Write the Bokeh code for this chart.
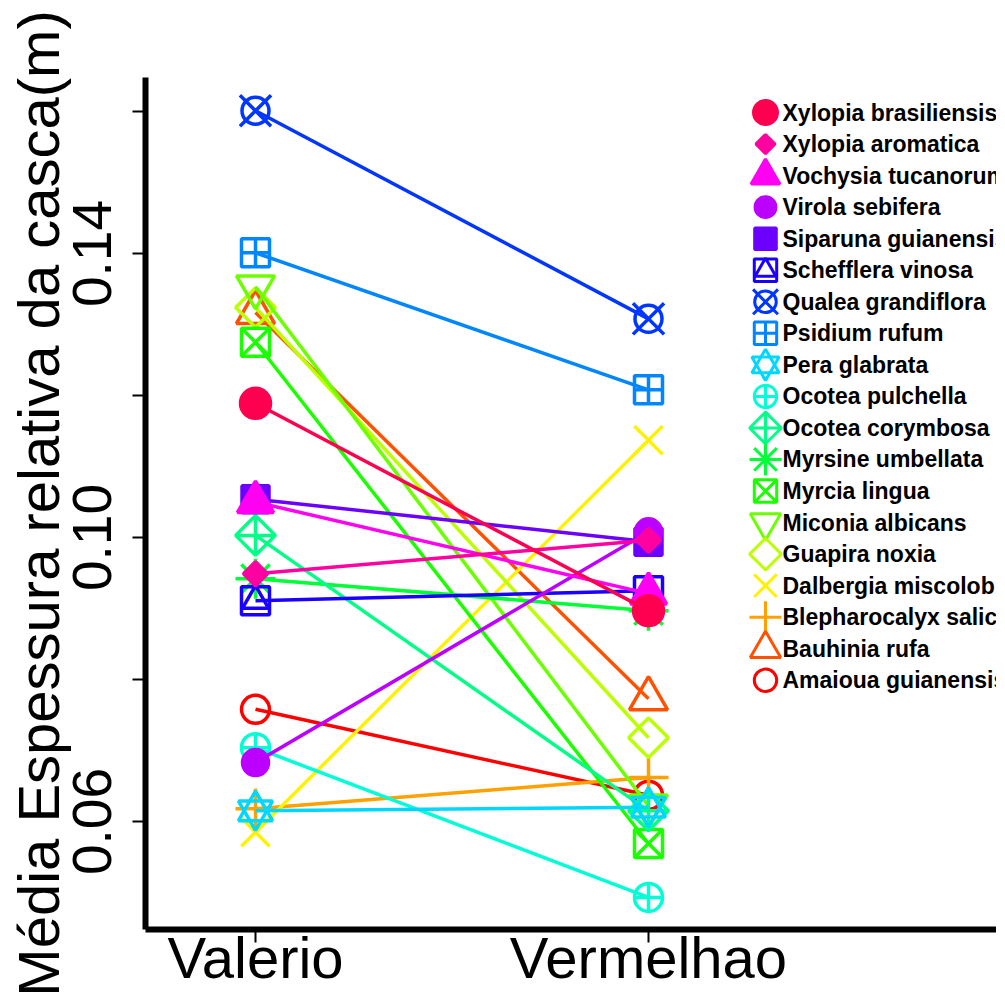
import math

from bokeh.core.properties import value
from bokeh.embed import file_html
from bokeh.models import FixedTicker, NumeralTickFormatter, Range1d
from bokeh.plotting import figure
from bokeh.resources import INLINE

# Bark thickness (mean relative, m) of each species at the two sites
species = [
    "Amaioua guianensis", "Bauhinia rufa", "Blepharocalyx salicifolius",
    "Dalbergia miscolobium", "Guapira noxia", "Miconia albicans",
    "Myrcia lingua", "Myrsine umbellata", "Ocotea corymbosa",
    "Ocotea pulchella", "Pera glabrata", "Psidium rufum",
    "Qualea grandiflora", "Schefflera vinosa", "Siparuna guianensis",
    "Virola sebifera", "Vochysia tucanorum", "Xylopia aromatica",
    "Xylopia brasiliensis",
]
sites = ["Valerio", "Vermelhao"]
valerio = [0.0758, 0.1317, 0.0618, 0.0585, 0.1324, 0.1353, 0.1275, 0.0942,
           0.1003, 0.0704, 0.0615, 0.1401, 0.1601, 0.0911, 0.1054, 0.0683,
           0.1050, 0.0949, 0.1189]
vermelhao = [0.0637, 0.0773, 0.0662, 0.1137, 0.0718, 0.0622, 0.0569, 0.0897,
             0.0615, 0.0493, 0.0620, 0.1208, 0.1308, 0.0925, 0.0994, 0.1008,
             0.0921, 0.0996, 0.0897]
y_ticks = [0.06, 0.10, 0.14]
y_minor = [0.08, 0.12, 0.16]

# rainbow palette, one hue per species
colors = ["#FF0000", "#FF5100", "#FFA100", "#FFF200", "#BCFF00", "#6BFF00",
          "#1BFF00", "#00FF36", "#00FF86", "#00FFD7", "#00D7FF", "#0086FF",
          "#0036FF", "#1B00FF", "#6B00FF", "#BC00FF", "#FF00F2", "#FF00A1",
          "#FF0051"]

Q = math.pi / 4
# marker layers per species: (marker, size, filled, angle)
styles = [
    [("circle", 28, False, 0)],
    [("triangle", 38, False, 0)],
    [("cross", 40, False, 0)],
    [("x", 40, False, 0)],
    [("square", 28, False, Q)],
    [("inverted_triangle", 38, False, 0)],
    [("square_x", 28, False, 0)],
    [("asterisk", 40, False, 0)],
    [("square_x", 28, False, Q)],
    [("circle_cross", 28, False, 0)],
    [("triangle", 34, False, 0), ("inverted_triangle", 34, False, 0)],
    [("square_cross", 28, False, 0)],
    [("circle", 27, False, 0), ("x", 44, False, 0)],
    [("square", 28, False, 0), ("triangle", 26, False, 0)],
    [("square", 27, True, 0)],
    [("circle", 26, True, 0)],
    [("triangle", 36, True, 0)],
    [("square", 17, True, Q)],
    [("circle", 30, True, 0)],
]

FONT = "Liberation Sans"
LW = 3.5

p = figure(
    width=996, height=999,
    output_backend="svg", toolbar_location=None,
    x_range=Range1d(0.7201, 2.8855),
    y_range=Range1d(0.04479, 0.16479),
    min_border_left=145, min_border_right=0,
    min_border_top=77, min_border_bottom=70,
)
p.outline_line_color = None
p.grid.visible = False
p.background_fill_color = "white"
p.border_fill_color = "white"

# legend rows: row k sits k steps below the first one
p.extra_y_ranges = {"legend": Range1d(start=25.9, end=-1.11)}

xs = [1, 2]
for i, name in enumerate(species):
    ys = [valerio[i], vermelhao[i]]
    c = colors[i]
    p.line(xs, ys, line_color=c, line_width=LW)
    for marker, size, filled, angle in styles[i]:
        p.scatter(xs, ys, marker=marker, size=size, angle=angle,
                  line_color=c, line_width=LW,
                  fill_color=c if filled else None)

# legend, last species first
leg_x = 2.2977
txt_x = 2.341
for k, i in enumerate(reversed(range(len(species)))):
    c = colors[i]
    for marker, size, filled, angle in styles[i]:
        p.scatter([leg_x], [k], y_range_name="legend", marker=marker,
                  size=size * 0.8, angle=angle, line_color=c, line_width=3,
                  fill_color=c if filled else None)
    p.text([txt_x], [k], text=[species[i]], y_range_name="legend",
           text_font=value(FONT), text_font_style="bold",
           text_font_size="23px", text_color="black",
           text_baseline="middle", text_align="left")

# axes
for ax in (p.xaxis, p.yaxis):
    ax.axis_line_width = 6
    ax.axis_line_color = "black"
    ax.major_tick_line_width = 2
    ax.major_tick_out = 13
    ax.major_tick_in = 0
    ax.major_label_text_font = FONT
    ax.major_label_text_color = "black"

p.xaxis.ticker = FixedTicker(ticks=xs)
p.xaxis.major_label_overrides = {1: sites[0], 2: sites[1]}
p.xaxis.major_label_text_font_size = "58px"
p.xaxis.major_label_standoff = -18
p.xaxis.minor_tick_line_color = None

p.yaxis.ticker = FixedTicker(ticks=y_ticks, minor_ticks=y_minor)
p.yaxis.formatter = NumeralTickFormatter(format="0.00")
p.yaxis.major_label_orientation = "vertical"
p.yaxis.major_label_text_font_size = "55px"
p.yaxis.major_label_standoff = 21
p.yaxis.minor_tick_out = 13
p.yaxis.minor_tick_in = 0
p.yaxis.minor_tick_line_width = 2
p.yaxis.minor_tick_line_color = "black"
p.yaxis.axis_label = "Média Espessura relativa da casca(m)"
p.yaxis.axis_label_text_font = FONT
p.yaxis.axis_label_text_font_size = "58px"
p.yaxis.axis_label_text_font_style = "normal"
p.yaxis.axis_label_text_color = "black"
p.yaxis.axis_label_standoff = 0

open("out.html", "w").write(file_html(p, INLINE))
